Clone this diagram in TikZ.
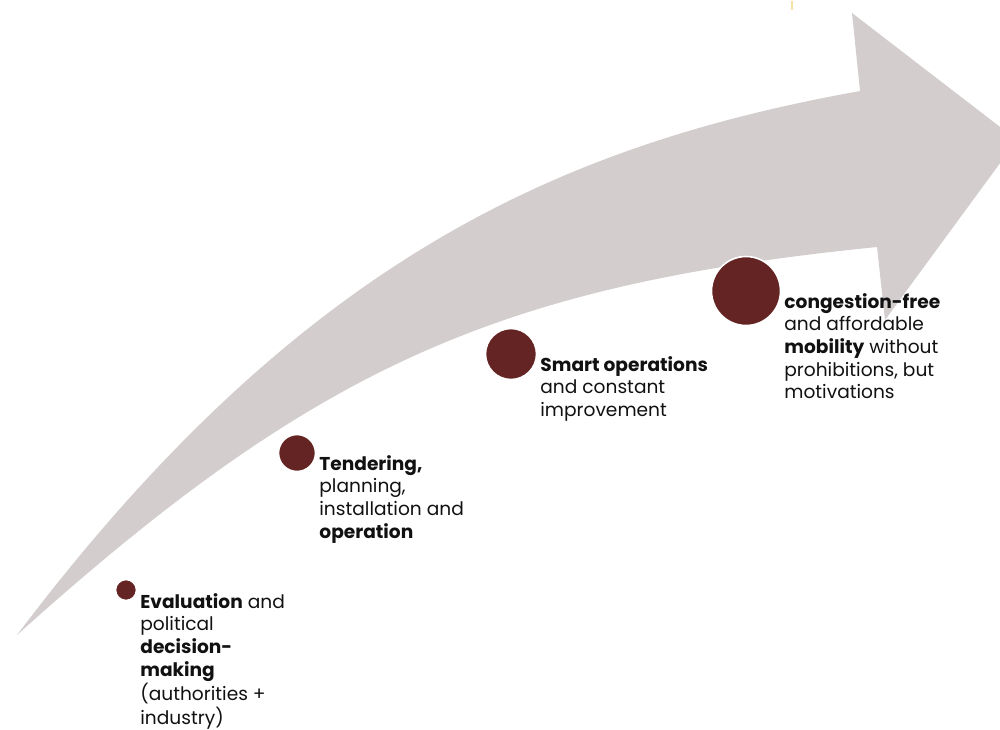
\documentclass[tikz,border=0pt]{standalone}
\usepackage{fontspec}
\setmainfont{Poppins}
\definecolor{arrowgray}{HTML}{D3CDCD}
\definecolor{dotred}{HTML}{632423}
\definecolor{txt}{HTML}{111111}
\definecolor{speck}{HTML}{F6E2A8}
\tikzset{
  dot/.style={circle, fill=dotred, draw=white, line width=0.8pt, inner sep=0pt, minimum size=#1},
  label/.style={anchor=base west, inner sep=0pt, text=txt, font=\fontsize{9.3}{11.35}\selectfont}
}
\newcommand{\lines}[1]{\begin{tabular}[t]{@{}l@{}}#1\end{tabular}}
\begin{document}
\begin{tikzpicture}[x=0.5pt,y=-0.5pt]
\useasboundingbox (0,0) rectangle (1000,729);
\begin{scope}
\clip (0,0) rectangle (1000,729);
\fill[arrowgray] (17,635) .. controls (300,260) and (560,145) .. (860,91)
  -- (852,13) -- (1017,140) -- (885,320) -- (877,247)
  .. controls (500,285) and (317,365) .. (17,635) -- cycle;
\fill[speck] (791,1) rectangle (793,10);
\end{scope}
\node[dot=10.5pt] (d1) at (126,590) {};
\node[dot=18.5pt] (d2) at (297,453) {};
\node[dot=25.5pt] (d3) at (511,354) {};
\node[dot=34.5pt] (d4) at (746,291) {};
\node[label] (t1) at (140,608) {\lines{\textbf{Evaluation} and\\ political\\ \textbf{decision-}\\ \textbf{making}\\ (authorities +\\ industry)}};
\node[label] (t2) at (319,470) {\lines{\textbf{Tendering,}\\ planning,\\ installation and\\ \textbf{operation}}};
\node[label] (t3) at (540,371) {\lines{\textbf{Smart operations}\\ and constant\\ improvement}};
\node[label] (t4) at (784,308) {\lines{\textbf{congestion-free}\\ and affordable\\ \textbf{mobility} without\\ prohibitions, but\\ motivations}};
\end{tikzpicture}
\end{document}
